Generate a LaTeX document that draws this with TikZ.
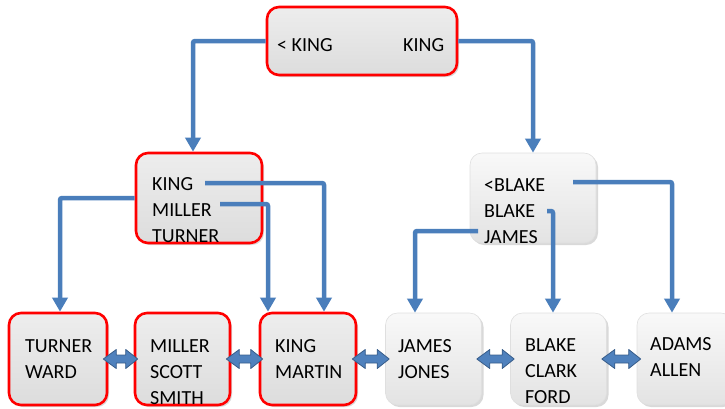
\documentclass[tikz,border=0pt]{standalone}
\usepackage{fontspec}
\setmainfont{Carlito}
\usetikzlibrary{arrows.meta,calc,shadows}
\definecolor{lineblue}{RGB}{74,126,187}
\definecolor{dblfill}{RGB}{79,129,189}
\definecolor{dbldraw}{RGB}{56,93,138}
\definecolor{boxred}{RGB}{255,0,0}
\tikzset{
  boxbase/.style={rectangle, inner sep=0pt, rounded corners=12pt,
    drop shadow={opacity=0.3, shadow xshift=2pt, shadow yshift=-2pt}},
  redbox/.style={boxbase, draw=boxred, line width=2.6pt, top color=gray!14, bottom color=gray!27},
  graybox/.style={boxbase, draw=gray!25, line width=0.6pt, top color=gray!5, bottom color=gray!22},
  txt/.style={anchor=base west, inner sep=0pt, align=left, font=\fontsize{20}{26}\selectfont},
  conn/.style={draw=lineblue, line width=4.5pt, rounded corners=2pt,
    -{Triangle[length=14pt,width=15pt]}},
  dbl/.style={fill=dblfill, draw=dbldraw, line width=0.8pt, line join=round}
}
\newcommand\dblarr[2]{%
  \draw[dbl] let \p1=(#1.east), \p2=(#2.west) in
    (\x1-5pt,\y1) -- (\x1+8pt,\y1+9.5pt) -- (\x1+8pt,\y1+4pt) -- (\x2-8pt,\y1+4pt)
    -- (\x2-8pt,\y1+9.5pt) -- (\x2+4pt,\y1) -- (\x2-8pt,\y1-9.5pt) -- (\x2-8pt,\y1-4pt)
    -- (\x1+8pt,\y1-4pt) -- (\x1+8pt,\y1-9.5pt) -- cycle;}
\begin{document}
\begin{tikzpicture}[x=1pt,y=-1pt]
\useasboundingbox (0,0) rectangle (725,408);
% boxes
\node[redbox, minimum width=190pt, minimum height=68pt] (root) at (362,41) {};
\node[redbox, minimum width=126pt, minimum height=90pt] (lmid) at (199,198) {};
\node[graybox, minimum width=126pt, minimum height=90pt] (rmid) at (533,198) {};
\node[redbox, minimum width=98pt, minimum height=92pt] (b1) at (58,359) {};
\node[redbox, minimum width=95pt, minimum height=92pt] (b2) at (182.5,359) {};
\node[redbox, minimum width=96pt, minimum height=92pt] (b3) at (308,359) {};
\node[graybox, minimum width=96pt, minimum height=92pt] (b4) at (433.5,359) {};
\node[graybox, minimum width=96pt, minimum height=92pt] (b5) at (558.5,359) {};
\node[graybox, minimum width=96pt, minimum height=92pt] (b6) at (685,359) {};
% texts (anchor = baseline of last line)
\node[txt] (tRootL) at (277,51) {< KING};
\node[txt] (tRootR) at (403,51) {KING};
\node[txt] (tL) at (152,242) {KING\\MILLER\\TURNER};
\node[txt] (tR) at (484,243) {<BLAKE\\BLAKE\\JAMES};
\node[txt] (t1) at (25,378) {TURNER\\WARD};
\node[txt] (t2) at (150,404) {MILLER\\SCOTT\\SMITH};
\node[txt] (t3) at (275,378) {KING\\MARTIN};
\node[txt] (t4) at (398,378) {JAMES\\JONES};
\node[txt] (t5) at (525,403) {BLAKE\\CLARK\\FORD};
\node[txt] (t6) at (650,376) {ADAMS\\ALLEN};
% connector start points
\coordinate (cK) at (205,183);
\coordinate (cM) at (220,204);
\coordinate (cB1) at (573,182);
\coordinate (cB2) at (547,211);
\coordinate (cJ) at (478,231);
% connectors
\draw[conn] (root.west) -| ([xshift=-6pt]lmid.north);
\draw[conn] (root.east) -| (rmid.north);
\draw[conn] (lmid.west) -| ([xshift=2pt]b1.north);
\draw[conn] (cK) -| ([xshift=16pt]b3.north);
\draw[conn] (cM) -| ([xshift=-40pt]b3.north);
\draw[conn] (cB1) -| ([xshift=-13pt]b6.north);
\draw[conn] (cB2) -| ([xshift=-5.5pt]b5.north);
\draw[conn] (cJ) -| ([xshift=-18.5pt]b4.north);
% double arrows
\dblarr{b1}{b2}
\dblarr{b2}{b3}
\dblarr{b3}{b4}
\dblarr{b4}{b5}
\dblarr{b5}{b6}
\end{tikzpicture}
\end{document}
